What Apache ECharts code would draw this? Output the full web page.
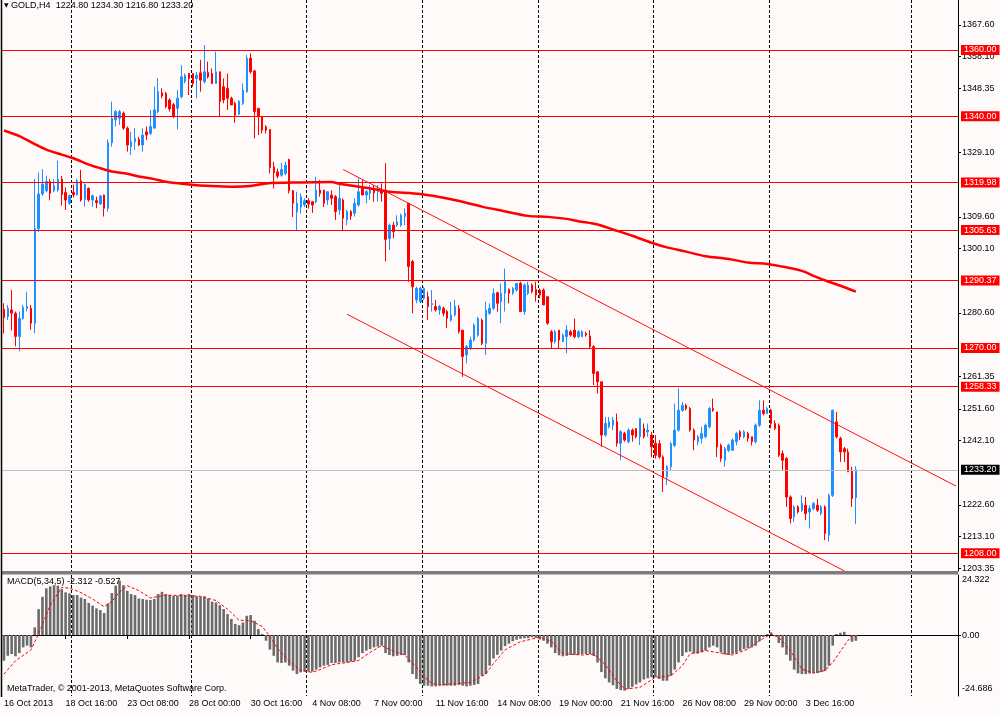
<!DOCTYPE html>
<html><head><meta charset="utf-8">
<script src="https://cdn.jsdelivr.net/npm/echarts@6/dist/echarts.min.js"></script>
<style>html,body{margin:0;padding:0;background:#fdfaf9}#c{width:1000px;height:713px}</style>
</head><body><div id="c"></div>
<script>
const symbolName = 'GOLD,H4';
const firstBarUTC = [2013, 9, 16, 0];   // 16 Oct 2013 00:00, H4 bars
const slotCount = 248;                   // bars + empty future slots on the axis
const labelEvery = 16;

const opens = [1281.7,1279.5,1281.5,1280.5,1273.5,1279,1282,1282,1277.5,1306,
1316.5,1317.5,1320.3,1317.5,1317.7,1321,1317,1313.7,1317,1316.3,
1320.5,1314.9,1318.2,1314.7,1314.5,1313.5,1316.2,1312.2,1332,1338.9,
1339.4,1340.9,1336.4,1330.8,1332.3,1333.0,1331.3,1335.3,1334.8,1336.4,
1341.4,1347.1,1346.9,1344.9,1343.5,1342.4,1345.9,1350.5,1352.9,1352.9,
1351.4,1353.1,1350.4,1353.2,1352.9,1349.9,1353.4,1348.9,1348.4,1345.4,
1343.9,1340.6,1343.9,1347.4,1357.5,1353.7,1342.4,1339.8,1336.8,1336.0,
1324.7,1323.2,1322.2,1322.7,1326.9,1317.5,1311.1,1312.6,1313.2,1314.5,
1314.2,1314.2,1317.7,1317.7,1314.7,1316.2,1315.7,1311.7,1314.7,1308.7,
1311.2,1310.7,1313.2,1318.2,1316.2,1316.7,1317.7,1317.2,1317.7,1317.7,
1303.1,1307.1,1307.1,1307.1,1309.7,1313.7,1296.1,1284.5,1284.0,1285.0,
1285.5,1283.1,1282.5,1281.5,1282.0,1281.0,1278.4,1280.0,1282.0,1275.4,
1267.9,1270.0,1272.4,1273.9,1278.4,1271.4,1280.5,1282.0,1286.7,1284.0,
1286.5,1287.7,1286.6,1287.5,1289.5,1281.0,1286.5,1289.0,1287.7,1287.5,
1287.5,1285.5,1274.9,1271.9,1275.4,1271.9,1273.4,1274.9,1275.4,1273.4,
1273.4,1274.4,1273.6,1270.4,1262.8,1259.8,1243.7,1246.2,1246.7,1247.7,
1241.2,1244.2,1241.7,1245.2,1245.7,1243.2,1245.7,1244.7,1243.7,1241.2,
1241.1,1237.1,1231.1,1234.1,1240.6,1245.2,1251.2,1252.7,1251.7,1245.2,
1241.7,1242.7,1243.2,1246.2,1251.7,1250.7,1240.6,1236.1,1239.1,1239.1,
1241.7,1244.7,1243.2,1244.2,1243.2,1241.7,1246.7,1251.2,1250.2,1251.2,
1247.2,1246.7,1238.1,1236.6,1225.0,1219.0,1222.0,1221.0,1222.5,1220.5,
1221.5,1222.5,1220.0,1222.0,1213.5,1225.5,1247.7,1242.7,1239.6,1238.6,
1233.1,1224.8];

const closes = [1279.2,1282,1280.5,1273.5,1279,1282.3,1282.6,1277.5,1306,1316.5,
1319.5,1320.3,1316.7,1319,1321,1316.3,1314.7,1316,1316.3,1320.5,
1314.7,1319.4,1314.7,1316,1313.9,1315.9,1312.2,1332,1339.4,1341.4,
1341.4,1336.4,1331.3,1332.3,1333.3,1331.3,1334.3,1334.3,1336.9,1341.9,
1347.4,1346.1,1342.9,1342.2,1340.0,1345.4,1351.9,1352.3,1351.4,1349.9,
1352.4,1350.9,1353.4,1351.9,1349.9,1353.4,1344.4,1344.9,1345.4,1343.4,
1340.3,1344.4,1347.9,1357.5,1353.4,1341.4,1339.8,1335.8,1335.8,1324.5,
1322.9,1321.9,1323.9,1325.2,1317.5,1313.7,1313.7,1315.7,1314.5,1313.5,
1313.2,1317.7,1316.7,1313.7,1317.2,1315.2,1311.2,1315.2,1309.2,1311.2,
1309.9,1313.7,1317.2,1316.2,1317.2,1317.7,1316.9,1317.9,1316.7,1302.8,
1307.1,1305.1,1308.1,1310.1,1310.7,1294.6,1288.5,1288.0,1288.0,1288.0,
1282.5,1283.4,1281.5,1282.5,1280.5,1279.0,1280.0,1282.5,1274.9,1267.4,
1270.4,1272.4,1276.9,1278.9,1271.4,1281.5,1282.0,1286.5,1283.5,1286.5,
1290.0,1286.5,1288.0,1289.5,1281.0,1289.0,1289.0,1287.0,1286.0,1286.0,
1283.0,1277.5,1271.9,1274.9,1272.4,1273.9,1275.4,1273.9,1273.4,1274.9,
1274.9,1273.9,1270.4,1262.3,1259.8,1243.7,1247.2,1247.7,1248.2,1241.2,
1244.7,1242.2,1245.2,1243.7,1243.2,1248.7,1243.2,1245.2,1240.2,1237.6,
1237.1,1231.1,1234.1,1241.1,1245.2,1251.2,1252.7,1251.7,1245.2,1242.2,
1243.2,1244.2,1246.7,1251.7,1251.2,1240.1,1236.6,1239.6,1240.6,1242.2,
1244.2,1243.2,1244.7,1242.7,1241.7,1246.7,1251.2,1250.2,1251.7,1247.2,
1245.7,1237.6,1236.1,1225.0,1218.5,1222.0,1220.5,1223.0,1220.0,1221.5,
1223.0,1221.0,1222.0,1214.0,1225.5,1251.2,1243.2,1238.6,1238.6,1232.6,
1224.5,1233.2];

const lows = [1274.4,1278.5,1275.3,1270.5,1269,1278.5,1281,1275.5,1274.5,1305,
1316,1317,1314.6,1317,1317.2,1313,1311.7,1313.2,1315.5,1316,
1314.2,1312.7,1314.2,1312.7,1312.2,1313.2,1309.7,1311.2,1330.8,1336.9,
1337.4,1335.9,1329.3,1328.3,1329.8,1331.0,1329.3,1332.8,1334.3,1336.4,
1340.9,1345.4,1342.4,1341.4,1339.4,1336.0,1345.4,1349.9,1346.4,1348.9,
1345.4,1347.4,1349.9,1351.4,1349.7,1349.9,1339.8,1343.9,1341.9,1343.4,
1338.0,1340.3,1343.4,1347.1,1352.9,1333.3,1334.3,1334.8,1334.8,1322.7,
1318.2,1321.2,1321.7,1322.2,1316.7,1309.6,1305.4,1310.6,1312.6,1312.1,
1310.8,1313.7,1315.7,1312.6,1313.2,1313.2,1308.7,1310.2,1305.6,1307.1,
1308.7,1309.7,1312.7,1316.2,1313.7,1314.7,1314.2,1314.2,1314.2,1296.1,
1299.6,1303.1,1306.6,1306.6,1307.1,1290.0,1280.5,1283.5,1283.5,1284.5,
1278.5,1281.0,1281.0,1280.0,1279.5,1276.0,1278.0,1279.5,1274.4,1261.3,
1265.3,1269.4,1271.9,1273.4,1270.9,1267.9,1280.0,1281.5,1281.0,1277.5,
1281.0,1283.5,1286.0,1287.0,1281.0,1280.0,1286.0,1286.5,1284.0,1285.0,
1283.0,1277.0,1269.9,1271.4,1269.9,1271.9,1268.4,1273.4,1272.9,1272.9,
1273.4,1273.4,1269.9,1258.8,1256.3,1240.2,1243.2,1245.7,1245.2,1240.2,
1236.2,1241.7,1241.2,1241.7,1242.7,1240.7,1242.7,1243.2,1237.0,1236.6,
1236.6,1226.5,1228.6,1233.1,1240.1,1244.7,1250.7,1251.2,1244.7,1239.1,
1240.6,1241.2,1242.7,1245.7,1250.7,1237.1,1235.6,1234.1,1238.6,1239.1,
1240.6,1242.2,1242.7,1241.7,1240.6,1241.2,1246.2,1249.7,1250.2,1245.7,
1245.2,1237.1,1233.1,1222.0,1217.0,1217.5,1220.0,1220.5,1218.0,1215.5,
1221.0,1220.5,1219.5,1212.0,1211.5,1225.0,1242.7,1235.6,1235.6,1232.6,
1222.0,1216.8];

const highs = [1283.5,1283,1287.5,1281,1281,1283,1287,1283,1321,1323,
1324,1322,1321,1321,1326.6,1322,1318.5,1316.3,1319.3,1321.1,
1323.8,1319.7,1318.5,1316.3,1315.7,1316.2,1316.3,1333,1344.4,1341.9,
1341.9,1341.4,1336.9,1335.3,1336.4,1333.8,1336.4,1336.9,1341.9,1348.9,
1351.5,1348.4,1347.4,1345.4,1344.0,1347.9,1355.4,1352.9,1353.0,1353.0,
1353.4,1357.0,1361.5,1356.5,1354.4,1359.5,1353.5,1351.4,1352.9,1345.9,
1344.4,1344.9,1349.9,1358.5,1359.0,1353.9,1342.4,1339.8,1337.3,1336.0,
1326.2,1324.2,1325.9,1326.2,1327.2,1317.7,1317.2,1316.7,1315.2,1315.2,
1314.4,1321.7,1320.7,1317.7,1317.2,1317.7,1316.2,1319.2,1315.2,1311.7,
1311.7,1315.2,1321.2,1320.7,1317.7,1319.2,1319.2,1319.2,1319.7,1325.8,
1307.6,1308.1,1310.1,1310.6,1312.2,1313.7,1296.6,1288.5,1288.5,1288.5,
1287.0,1287.5,1284.5,1283.0,1282.5,1281.5,1284.0,1284.5,1283.0,1275.4,
1270.9,1273.4,1277.4,1279.4,1278.9,1284.0,1283.5,1288.0,1287.0,1289.5,
1294.0,1288.0,1288.4,1289.6,1290.0,1289.5,1290.0,1289.5,1290.0,1288.0,
1288.0,1285.5,1275.4,1275.4,1275.4,1274.4,1276.9,1275.4,1278.9,1275.4,
1275.4,1274.9,1275.4,1270.9,1262.8,1259.8,1249.2,1249.2,1249.2,1250.2,
1245.2,1244.7,1245.7,1245.7,1245.7,1248.7,1247.2,1247.2,1244.7,1243.7,
1242.2,1237.6,1234.6,1241.6,1253.2,1257.8,1253.7,1253.2,1252.2,1245.7,
1243.7,1246.2,1247.2,1252.2,1254.7,1250.7,1241.1,1240.1,1241.1,1242.7,
1244.7,1245.2,1245.2,1244.7,1243.2,1247.2,1254.2,1254.2,1252.2,1251.7,
1248.2,1247.2,1239.1,1237.1,1225.5,1222.5,1222.5,1225.5,1225.0,1222.5,
1223.5,1224.5,1222.5,1222.5,1226.0,1251.4,1250.7,1243.2,1240.1,1239.6,
1234.1,1234.3];

// moving average, read at sample bars: [bar index, price]
const maPoints = [[0,1335.7],[4,1334.0],[8,1331.6],[11,1329.9],[15,1328.4],[18,1327.3],[22,1325.4],[25,1324.3],[28,1323.3],[32,1322.6],[35,1321.8],[39,1321.0],[42,1320.2],[48,1319.4],[54,1318.9],[59,1318.7],[64,1318.9],[68,1319.7],[77,1320.0],[85,1320.1],[87,1319.6],[95,1318.2],[100,1317.2],[108,1316.5],[116,1314.9],[124,1312.7],[129,1311.5],[136,1309.9],[141,1309.6],[146,1309.0],[149,1308.3],[154,1307.3],[158,1305.8],[163,1303.9],[168,1301.8],[172,1300.4],[177,1299.1],[182,1297.7],[188,1296.9],[193,1295.8],[198,1295.4],[201,1294.8],[207,1293.3],[210,1291.8],[214,1290.0],[217,1288.8],[221,1287.0]];

const priceLevels = [1360.00, 1340.00, 1319.98, 1305.63, 1290.37, 1270.00, 1258.33, 1208.00];
const lastPrice = 1233.20;
const priceMin = 1202.65, priceMax = 1375.10;
const priceTicks = [1203.35, 1213.10, 1222.60, 1242.10, 1251.60, 1261.35, 1280.60, 1300.10, 1309.60, 1329.10, 1348.35, 1358.10, 1367.60];

// channel trend lines: [bar index, price]
const upperChannel = [[88, 1323.9], [247, 1228.3]];
const lowerChannel = [[89, 1280.2], [218, 1202.7]];

const macdHist = [-10.4,-8.4,-7.7,-8.6,-7.3,-5.0,-4.3,-5.0,3.1,10.5,
15.5,18.9,19.7,20.2,20.0,18.6,17.3,16.9,16.2,16.2,
15.2,14.6,13.0,11.9,10.8,10.1,8.9,12.8,17.0,20.0,
22.0,20.2,17.9,16.6,16.2,14.8,14.6,14.3,14.2,14.6,
16.6,17.5,16.6,16.2,15.9,15.9,16.6,16.3,16.6,16.2,
15.7,15.5,15.7,14.8,13.5,13.2,12.1,10.5,8.5,6.5,
4.5,4.0,5.1,7.8,8.1,5.8,2.4,0.4,-2.3,-5.9,
-8.4,-11.1,-11.3,-11.1,-12.4,-14.4,-15.8,-15.1,-14.8,-14.8,
-14.8,-14.0,-13.1,-12.4,-12.1,-11.3,-11.3,-11.1,-11.1,-11.1,
-10.8,-10.4,-9.0,-7.3,-6.3,-5.7,-5.0,-4.7,-4.3,-7.3,
-8.1,-8.6,-8.4,-8.1,-8.1,-11.1,-15.8,-17.8,-19.8,-20.5,
-20.5,-20.8,-20.8,-20.5,-20.5,-20.5,-20.5,-20.5,-20.2,-20.5,
-20.8,-20.5,-20.2,-19.8,-16.5,-15.8,-12.4,-9.5,-8.0,-6.3,
-4.5,-3.5,-2.5,-1.9,-1.5,-1.3,-1.2,-0.9,-1.2,-1.8,
-2.3,-3.5,-5.0,-7.3,-8.2,-8.6,-8.4,-8.1,-8.1,-8.0,
-7.7,-7.7,-7.8,-8.5,-11.1,-15.0,-17.5,-19.2,-20.3,-21.8,
-22.3,-22.5,-21.8,-21.0,-20.0,-19.2,-18.0,-17.5,-17.1,-17.1,
-17.8,-18.5,-18.5,-16.5,-14.0,-11.1,-8.5,-7.0,-6.7,-7.5,
-7.5,-7.0,-6.3,-5.0,-4.3,-5.0,-7.0,-7.9,-8.1,-7.7,
-7.2,-6.5,-5.7,-5.4,-5.0,-4.3,-2.5,-0.8,0.4,1.1,
-0.5,-3.2,-5.0,-8.0,-10.4,-14.0,-15.5,-15.8,-15.8,-15.6,
-15.4,-15.4,-15.0,-14.5,-12.4,-4.3,0.4,0.9,1.3,0.0,
-2.7,-2.312];

// signal line, read at sample bars: [bar index, value]
const signalPoints = [[0,-15.8],[3,-10.4],[7,-6.0],[9,0.5],[12,12.0],[15,19.3],[17,19.0],[20,17.2],[23,14.6],[26,11.5],[28,13.5],[30,17.5],[32,20.0],[35,18.0],[38,15.0],[42,16.2],[47,15.9],[51,15.7],[55,14.0],[58,10.5],[61,6.0],[64,5.8],[67,3.5],[69,-0.5],[71,-5.5],[74,-10.5],[77,-14.4],[80,-15.1],[82,-14.0],[85,-12.0],[89,-11.1],[92,-10.3],[95,-7.0],[98,-4.3],[101,-6.5],[104,-8.1],[107,-13.0],[109,-17.0],[111,-19.5],[113,-20.2],[116,-19.8],[121,-19.2],[125,-15.8],[127,-11.5],[130,-6.0],[134,-2.7],[139,-0.9],[142,-2.5],[145,-7.5],[150,-8.1],[153,-7.7],[156,-12.0],[159,-18.5],[161,-21.9],[165,-21.2],[169,-17.1],[173,-16.5],[176,-12.4],[178,-7.5],[182,-6.3],[186,-7.3],[189,-8.1],[193,-5.7],[196,-2.3],[199,0.4],[201,-0.9],[204,-6.3],[207,-13.8],[210,-15.4],[213,-14.4],[215,-11.1],[218,-4.3],[220,0.0],[221,-0.527]];

const macdMax = 24.322, macdMin = -24.686;
const macdTicks = [24.322, 0, -24.686];
const gridLineSlots = [18, 49, 79, 109, 139, 169, 199, 236];

// ---------- build ----------
const FONT = 'Liberation Sans';
const FS = 9;
const nBars = closes.length;
const last = nBars - 1;
const MON = ['Jan','Feb','Mar','Apr','May','Jun','Jul','Aug','Sep','Oct','Nov','Dec'];
const cats = [];
let t = Date.UTC(firstBarUTC[0], firstBarUTC[1], firstBarUTC[2], firstBarUTC[3]);
while (cats.length < slotCount) {
  const d = new Date(t);
  const wd = d.getUTCDay();
  if (wd !== 0 && wd !== 6) {
    const hh = String(d.getUTCHours()).padStart(2, '0');
    cats.push(cats.length === 0 ? `${d.getUTCDate()} ${MON[d.getUTCMonth()]} ${d.getUTCFullYear()}`
                                : `${d.getUTCDate()} ${MON[d.getUTCMonth()]} ${hh}:00`);
  }
  t += 4 * 3600 * 1000;
}
const candleData = opens.map((o, i) => [o, closes[i], lows[i], highs[i]]);
const showLabelAt = (i) => i % labelEvery === 0 && i < nBars;
const gridLineAt = (i) => gridLineSlots.indexOf(i) >= 0;
const splitLineStyle = { show: true, interval: gridLineAt, lineStyle: { color: '#000', width: 1, type: [3, 2] } };

const titleText = `${symbolName}  ${opens[last].toFixed(2)} ${highs[last].toFixed(2)} ${lows[last].toFixed(2)} ${closes[last].toFixed(2)}`;
const macdText = `MACD(5,34,5) ${macdHist[last].toFixed(3)} ${signalPoints[signalPoints.length - 1][1].toFixed(3)}`;

const levelLines = priceLevels.map(v => ({ yAxis: v }));
levelLines.push({ yAxis: lastPrice, lineStyle: { color: '#c0c0c0', width: 1, type: 'solid' },
  label: { backgroundColor: '#000000', color: '#fff' } });
const trendLine = (pts) => [
  { coord: pts[0], label: { show: false }, lineStyle: { color: '#ff1010', width: 1, type: 'solid' } },
  { coord: pts[1], label: { show: false } }
];
levelLines.push(trendLine(upperChannel));
levelLines.push(trendLine(lowerChannel));

const chart = echarts.init(document.getElementById('c'), null, { renderer: 'canvas' });
chart.setOption({
  animation: false,
  backgroundColor: '#fdfaf9',
  textStyle: { fontFamily: FONT },
  title: [
    { text: '{tri|▼} ' + titleText, left: 4, top: 1, padding: 0,
      textStyle: { fontSize: FS, fontWeight: 'normal', color: '#000', fontFamily: FONT,
        rich: { tri: { fontSize: 6, color: '#000', fontFamily: 'DejaVu Sans' } } } },
    { text: macdText, left: 7, top: 577, padding: 0,
      textStyle: { fontSize: FS, fontWeight: 'normal', color: '#000', fontFamily: FONT } },
    { text: 'MetaTrader, © 2001-2013, MetaQuotes Software Corp.', left: 7, top: 684, padding: 0,
      textStyle: { fontSize: FS, fontWeight: 'normal', color: '#000', fontFamily: FONT } }
  ],
  grid: [
    { left: 2, right: 42, top: 0, height: 571, show: false },
    { left: 2, right: 42, top: 575, height: 121, show: false }
  ],
  xAxis: [
    { type: 'category', gridIndex: 0, data: cats, boundaryGap: true,
      axisLine: { show: false }, axisTick: { show: false }, axisLabel: { show: false },
      splitLine: splitLineStyle },
    { type: 'category', gridIndex: 1, data: cats, boundaryGap: true,
      axisLine: { show: true, lineStyle: { color: '#000', width: 1 } },
      axisTick: { show: true, interval: showLabelAt, alignWithLabel: true, length: 4, lineStyle: { color: '#000' } },
      axisLabel: { show: true, interval: showLabelAt, align: 'left', margin: 3, color: '#000',
        fontFamily: FONT, fontSize: FS, hideOverlap: false },
      splitLine: splitLineStyle }
  ],
  yAxis: [
    { type: 'value', gridIndex: 0, position: 'right', min: priceMin, max: priceMax, scale: true,
      axisLine: { show: true, lineStyle: { color: '#000', width: 1 } },
      axisTick: { show: true, customValues: priceTicks, length: 3, lineStyle: { color: '#000' } },
      axisLabel: { show: true, customValues: priceTicks, formatter: v => v.toFixed(2), margin: 4,
        color: '#000', fontFamily: FONT, fontSize: FS },
      splitLine: { show: false } },
    { type: 'value', gridIndex: 1, position: 'right', min: macdMin, max: macdMax,
      axisLine: { show: true, lineStyle: { color: '#000', width: 1 } },
      axisTick: { show: true, customValues: [0], length: 3, lineStyle: { color: '#000' } },
      axisLabel: { show: true, customValues: macdTicks, margin: 4, color: '#000', fontFamily: FONT, fontSize: FS,
        formatter: v => v > 0 ? `{t|${v.toFixed(3)}}` : (v < 0 ? `{b|${v.toFixed(3)}}` : v.toFixed(2)),
        rich: { t: { padding: [10, 0, 0, 0], fontSize: FS, fontFamily: FONT, color: '#000' },
                b: { padding: [0, 0, 15, 0], fontSize: FS, fontFamily: FONT, color: '#000' } } },
      splitLine: { show: false } }
  ],
  series: [
    { type: 'candlestick', xAxisIndex: 0, yAxisIndex: 0, data: candleData, barWidth: 2, z: 2,
      itemStyle: { color: '#1e90ff', color0: '#ff0000', borderColor: '#1e90ff', borderColor0: '#ff0000', borderWidth: 1 },
      markLine: { symbol: ['none', 'none'], silent: true, animation: false, precision: 2,
        lineStyle: { color: '#ff0000', width: 1, type: 'solid' },
        label: { show: true, position: 'end', distance: 3, color: '#fff', backgroundColor: '#ff0000',
          fontFamily: FONT, fontSize: FS, padding: [1, 3, 0, 3], formatter: p => Number(p.value).toFixed(2) },
        data: levelLines } },
    { type: 'line', xAxisIndex: 0, yAxisIndex: 0, data: maPoints, showSymbol: false, smooth: 0.3, z: 3,
      lineStyle: { color: '#ff0000', width: 2.5 } },
    { type: 'bar', xAxisIndex: 1, yAxisIndex: 1, data: macdHist, barWidth: 2.6,
      itemStyle: { color: '#6b6b6b' } },
    { type: 'line', xAxisIndex: 1, yAxisIndex: 1, data: signalPoints, showSymbol: false, z: 3,
      lineStyle: { color: '#ff0000', width: 1, type: [3, 2] } }
  ],
  graphic: [
    { type: 'rect', left: 2, top: 571, shape: { width: 956, height: 3.5 }, style: { fill: '#7d7d7d' }, silent: true, z: 10 },
    { type: 'line', shape: { x1: 1.5, y1: 0, x2: 1.5, y2: 697 }, style: { stroke: '#000', lineWidth: 1.5 }, silent: true, z: 10 }
  ]
});
</script>
</body></html>
